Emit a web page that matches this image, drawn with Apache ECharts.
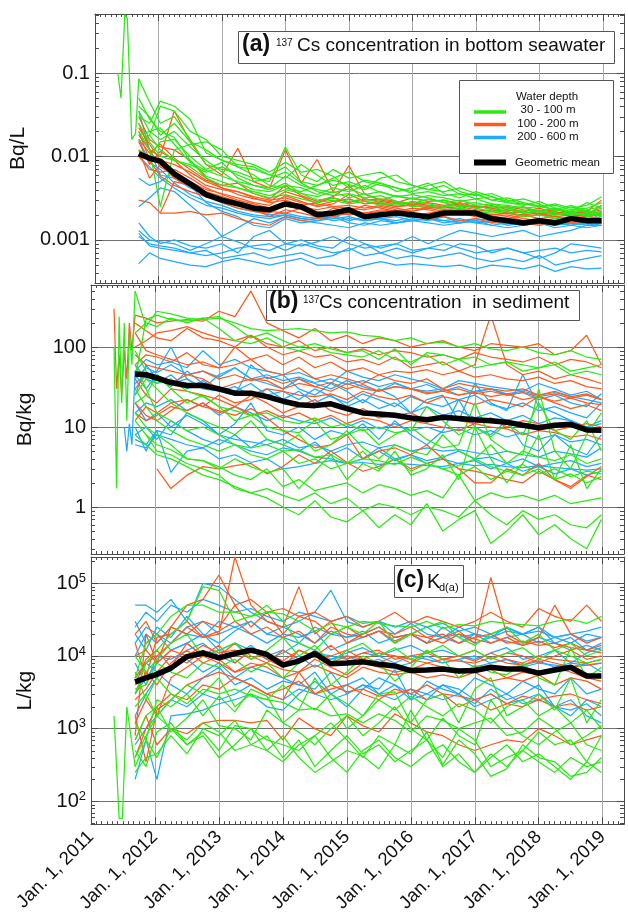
<!DOCTYPE html>
<html><head><meta charset="utf-8">
<script src="https://cdn.jsdelivr.net/npm/echarts@6/dist/echarts.min.js"></script>
<style>html,body{margin:0;padding:0;background:#fff}#c{width:628px;height:915px}</style>
</head><body><div id="c"></div>
<script>
// ---------- time axis (decimal years) ----------
const dates = [2011.69,2011.86,2012.03,2012.25,2012.5,2012.75,2013,2013.25,2013.5,2013.75,
  2014,2014.25,2014.5,2014.75,2015,2015.25,2015.5,2015.75,2016,2016.25,
  2016.5,2016.75,2017,2017.25,2017.5,2017.75,2018,2018.25,2018.5,2018.75,2018.98];
const yearTicks = [2011,2012,2013,2014,2015,2016,2017,2018,2019];

// ---------- (a) 137Cs in bottom seawater, Bq/L ----------
const earlyDatesA = [2011.36,2011.41,2011.47,2011.51,2011.58,2011.64,2011.69];
const earlyGreenA = [0.1,0.05,0.5,0.45,0.016,0.019,0.085];
const greenA = [
 [0.085,0.045,0.025,0.03,0.016,0.008,0.007,0.0065,0.0055,0.005,0.013,0.006,0.005,0.007,0.0055,0.006,0.0065,0.005,0.0045,0.004,0.0045,0.0035,0.0035,0.003,0.0032,0.0028,0.0025,0.0027,0.0024,0.0026,0.0033],
 [0.03,0.025,0.046,0.04,0.028,0.011,0.009,0.008,0.0075,0.006,0.0055,0.008,0.006,0.0045,0.005,0.0042,0.0055,0.006,0.0045,0.004,0.0038,0.0042,0.0036,0.003,0.0028,0.0026,0.0029,0.0024,0.0022,0.0028,0.0024],
 [0.02,0.012,0.0025,0.012,0.014,0.015,0.012,0.0075,0.006,0.0045,0.0042,0.0038,0.0045,0.0055,0.0065,0.005,0.0045,0.0042,0.0038,0.0045,0.005,0.0038,0.0034,0.0036,0.003,0.0027,0.0026,0.0023,0.0026,0.0022,0.0021],
 [0.015,0.018,0.04,0.035,0.02,0.016,0.01,0.009,0.008,0.0065,0.0085,0.0065,0.007,0.0058,0.0042,0.0052,0.0048,0.0038,0.0042,0.0048,0.0036,0.0032,0.0038,0.0033,0.0029,0.0031,0.0027,0.0022,0.0025,0.0021,0.0024],
 [0.012,0.01,0.015,0.016,0.01,0.007,0.0085,0.0055,0.0045,0.004,0.0048,0.0036,0.0033,0.0038,0.0032,0.0036,0.003,0.0034,0.0031,0.0029,0.003,0.0027,0.0028,0.0025,0.0024,0.0022,0.0023,0.0021,0.002,0.0021,0.0019],
 [0.035,0.02,0.016,0.02,0.013,0.009,0.0065,0.0048,0.004,0.0038,0.0045,0.0042,0.0035,0.0042,0.0038,0.0045,0.0037,0.0033,0.0035,0.0032,0.0028,0.003,0.0026,0.0027,0.0024,0.0025,0.0022,0.0024,0.0021,0.0023,0.002],
 [null,0.018,0.012,0.009,0.008,0.0065,0.0075,0.006,0.005,0.0055,0.0065,0.0048,0.0038,0.0034,0.0036,0.0032,0.0034,0.0029,0.0027,0.0031,0.0028,0.0025,0.0026,0.0023,0.0025,0.0021,0.0022,0.002,0.0022,0.0019,0.0021],
 [0.05,0.028,0.02,0.017,0.009,0.0058,0.005,0.0042,0.0036,0.0032,0.0035,0.0031,0.0028,0.003,0.0027,0.0029,0.0026,0.0028,0.0025,0.0026,0.0023,0.0024,0.0022,0.0021,0.0022,0.0019,0.002,0.0018,0.0019,0.0018,0.0018],
 [0.04,0.03,0.018,0.025,0.015,0.012,0.009,0.0075,0.007,0.006,0.0075,0.005,0.0045,0.0052,0.0046,0.004,0.0048,0.0042,0.0036,0.0038,0.0034,0.0036,0.0031,0.0033,0.0028,0.0027,0.0025,0.0026,0.0023,0.0024,0.0028],
 [0.025,0.015,0.01,0.009,0.0075,0.0055,0.0045,0.0042,0.0038,0.0034,0.004,0.0036,0.003,0.0032,0.0029,0.0031,0.0028,0.0026,0.0029,0.0027,0.0025,0.0026,0.0024,0.0022,0.0023,0.0021,0.0022,0.002,0.0021,0.002,0.0022],
 [0.018,0.02,0.022,0.014,0.0085,0.0068,0.0058,0.005,0.0045,0.0042,0.0058,0.0045,0.004,0.0037,0.0041,0.0035,0.0038,0.0033,0.0031,0.0034,0.0032,0.0029,0.0031,0.0027,0.0026,0.0024,0.0025,0.0023,0.0022,0.0023,0.0025]
];
const orangeA = [
 [0.025,0.012,0.01,0.035,0.015,0.008,0.006,0.0125,0.005,0.0042,0.012,0.0048,0.0092,0.0038,0.0078,0.0035,0.003,0.0028,0.0032,0.0029,0.003,0.0026,0.0025,0.0024,0.0022,0.0025,0.002,0.0022,0.0019,0.002,0.0026],
 [0.003,0.0028,0.0021,0.005,0.0045,0.0035,0.0028,0.0024,0.0022,0.0021,0.0026,0.0023,0.0021,0.0022,0.002,0.0021,0.0022,0.002,0.0021,0.0019,0.002,0.0021,0.0019,0.0018,0.0019,0.0017,0.0018,0.0017,0.0018,0.0017,0.0019],
 [0.018,0.012,0.0075,0.006,0.005,0.004,0.0036,0.0032,0.0028,0.0026,0.0034,0.0029,0.0025,0.0027,0.0035,0.0029,0.0027,0.0025,0.0026,0.0024,0.0025,0.0023,0.0022,0.0023,0.0021,0.0022,0.002,0.0021,0.0019,0.002,0.002],
 [0.02,0.009,0.0058,0.0045,0.0038,0.0033,0.003,0.0027,0.0024,0.0019,0.0023,0.0021,0.0019,0.0024,0.0022,0.0026,0.0024,0.0022,0.0024,0.0023,0.0021,0.0022,0.002,0.0019,0.002,0.0018,0.0017,0.0018,0.0017,0.0019,0.0018],
 [null,null,0.0021,0.0021,0.0022,0.002,0.0021,0.0018,0.0016,0.0015,0.0019,0.0017,0.0018,0.0019,0.0021,0.002,0.0019,0.0021,0.002,0.0018,0.0019,0.0017,0.0018,0.0016,0.0017,0.0016,0.0015,0.0017,0.0016,0.0017,0.0016],
 [0.015,0.008,0.0115,0.009,0.006,0.0045,0.004,0.0038,0.0032,0.0028,0.003,0.0026,0.0028,0.0032,0.0028,0.0031,0.0029,0.0027,0.0028,0.0026,0.0025,0.0027,0.0024,0.0026,0.0023,0.0022,0.0024,0.0021,0.0022,0.0021,0.0023],
 [0.012,0.0055,0.008,0.0055,0.0045,0.0038,0.0033,0.0029,0.0026,0.0022,0.0021,0.0024,0.0022,0.002,0.0023,0.0021,0.0023,0.0022,0.0019,0.0021,0.0022,0.002,0.0021,0.0019,0.0018,0.002,0.0018,0.0019,0.0018,0.0018,0.0017],
 [0.03,0.016,0.013,0.012,0.009,0.0055,0.0042,0.0035,0.0031,0.0029,0.0038,0.0033,0.0027,0.0025,0.0026,0.0024,0.0026,0.0024,0.0022,0.0025,0.0023,0.0024,0.0022,0.002,0.0021,0.002,0.0021,0.0019,0.002,0.0019,0.0021],
 [0.022,0.014,0.009,0.008,0.0065,0.005,0.0042,0.0038,0.0033,0.003,0.0032,0.0028,0.0026,0.0029,0.0031,0.0027,0.0028,0.0025,0.0027,0.0025,0.0024,0.0025,0.0023,0.0022,0.0023,0.0021,0.0022,0.002,0.0021,0.002,0.0022],
 [0.01,0.007,0.0065,0.007,0.0055,0.0042,0.0035,0.003,0.0027,0.0024,0.0028,0.0025,0.0023,0.0025,0.0024,0.0023,0.0025,0.0023,0.0022,0.0024,0.0022,0.0023,0.0021,0.002,0.0021,0.0019,0.002,0.0019,0.0018,0.0019,0.002],
 [0.016,0.011,0.014,0.0095,0.007,0.0052,0.0045,0.0048,0.0036,0.0031,0.0045,0.0034,0.0029,0.0033,0.0045,0.003,0.0031,0.0029,0.0027,0.0028,0.0026,0.0028,0.0025,0.0024,0.0025,0.0023,0.0022,0.0023,0.0021,0.0022,0.003]
];
const blueA = [
 [0.035,0.012,0.006,0.0055,0.0042,0.0035,0.0028,0.0024,0.0022,0.002,0.0021,0.0019,0.0018,0.002,0.0017,0.0019,0.0018,0.0017,0.0019,0.0018,0.0017,0.0018,0.0016,0.0015,0.0016,0.0015,0.0016,0.0015,0.0016,0.0015,0.0016],
 [0.0055,0.0045,0.005,0.0065,0.0045,0.0028,0.0022,0.0019,0.0015,0.0014,0.0018,0.0016,0.0017,0.0019,0.0016,0.0015,0.0017,0.0016,0.0018,0.0017,0.0019,0.0016,0.0018,0.0017,0.0015,0.0016,0.0017,0.0016,0.0015,0.0017,0.0016],
 [0.0025,0.0032,0.0042,0.0038,0.0026,0.0018,0.0011,0.0014,0.0018,0.0016,0.0019,0.0017,0.0016,0.0015,0.0014,0.0016,0.0015,0.0016,0.0017,0.0016,0.0015,0.0016,0.0017,0.0015,0.0014,0.0015,0.0016,0.0014,0.0015,0.0014,0.0015],
 [0.016,0.0085,0.007,0.0048,0.0035,0.0029,0.0026,0.0022,0.002,0.0019,0.002,0.0018,0.0019,0.0017,0.0018,0.0017,0.0018,0.0016,0.0017,0.0018,0.0016,0.0017,0.0016,0.0017,0.0015,0.0016,0.0015,0.0016,0.0015,0.0016,0.0015],
 [0.0016,0.0011,0.0009,0.001,0.00085,0.0008,0.0009,0.0007,0.0011,0.0013,0.0009,0.001,0.00085,0.0008,0.0011,0.0009,0.0008,0.0009,0.0011,0.0009,0.0011,0.0013,0.0012,0.0011,0.0012,0.0013,0.0011,0.0012,0.0013,0.0015,0.0022],
 [0.0012,0.00085,0.0008,0.00075,0.0007,0.00065,0.0007,0.0008,0.00085,0.0009,0.00075,0.0009,0.0008,0.0007,0.00075,0.0009,0.0007,0.0008,0.0007,0.0008,0.00075,0.0009,0.00085,0.0007,0.0008,0.0007,0.0006,0.0007,0.0009,0.00085,0.0008],
 [0.0011,0.0009,0.00085,0.0008,0.0007,0.00075,0.0006,0.00065,0.0007,0.0006,0.00065,0.0007,0.0006,0.00065,0.0008,0.00065,0.0007,0.0006,0.00065,0.0006,0.00065,0.0007,0.0006,0.00055,0.0006,0.00055,0.00065,0.0005,0.00055,0.0006,0.00065],
 [0.00052,0.0007,0.0006,0.00055,0.0005,0.00048,0.00055,0.0006,0.00055,0.0005,0.00055,0.0006,0.0005,0.0005,0.00045,0.0005,0.00055,0.0005,0.00052,0.0005,0.00048,0.0005,0.00045,0.0005,0.00048,0.00045,0.0005,0.00042,0.00048,0.00045,0.00046],
 [0.01,0.0075,0.0055,0.0042,0.0032,0.0026,0.0024,0.0021,0.0019,0.0018,0.002,0.0018,0.0017,0.0018,0.0019,0.0017,0.0018,0.0019,0.0017,0.0018,0.0017,0.0016,0.0017,0.0016,0.0016,0.0015,0.0016,0.0015,0.0016,0.0015,0.0015],
 [0.0013,0.001,0.00095,0.0009,0.00075,0.0009,0.0011,0.00095,0.0008,0.00075,0.0009,0.00085,0.00095,0.0011,0.0009,0.0008,0.00085,0.0009,0.00075,0.0008,0.0009,0.0008,0.0007,0.00075,0.0008,0.0007,0.00075,0.0008,0.0007,0.00075,0.00072]
];
const meanA = [0.0108,0.0095,0.0088,0.0062,0.0047,0.0035,0.003,0.0027,0.0024,0.0023,0.0027,0.0025,0.002,0.0021,0.0023,0.0019,0.002,0.0021,0.002,0.0019,0.0021,0.0021,0.0021,0.0018,0.0017,0.0016,0.0017,0.0016,0.0018,0.0017,0.0017];

// ---------- (b) 137Cs in sediment, Bq/kg ----------
const earlyDatesB = [2011.36,2011.40,2011.44,2011.48,2011.52,2011.56,2011.60,2011.64,2011.69];
const earlyGreenB = [100,1.7,240,20,200,12,150,60,500];
const earlyOrangeB = [300,30,80,25,90,40,200,90,250];
const earlyBlueB = [null,null,null,null,10,5,11,6,50];
const greenB = [
 [500,180,280,260,230,220,230,200,170,160,165,170,160,150,155,140,135,120,130,110,115,100,110,95,90,100,85,80,90,75,70],
 [40,220,250,220,210,230,240,180,130,150,120,100,110,95,85,90,70,95,60,85,80,70,75,60,65,60,55,65,50,55,60],
 [20,25,45,30,20,25,18,12,14,10,9,8.5,12,7,8,9.5,6,8,10,7,5.5,6,20,7,5,4.5,30,5,3,8,15],
 [60,30,15,12,9,10,8,6,5.5,6,5,5.2,4.2,4.5,3.5,4,3.8,3.4,4.2,3.5,3,3.3,4,3.2,2.8,3.4,2.6,3,2.4,2.8,2.6],
 [15,10,8,6,4,3.8,3.2,2.5,2.2,3,1.8,2.2,1.6,1.8,2,1.5,1.9,1.7,1.4,1.6,1.3,2.5,1.2,1.5,1.3,1.4,1.2,1.4,1.1,1.2,1.3],
 [null,8,5,4.5,3.5,3,2.5,1.7,1.5,1.3,1,0.8,1.2,0.75,0.65,0.9,0.55,0.8,0.6,1.1,0.5,0.7,0.9,0.35,0.5,0.8,0.45,0.6,0.4,0.3,0.7],
 [12,8,6,5.2,4,3.8,3,4,3.2,2.7,3,1.7,2.8,4.5,2.2,3.5,2.8,5,2.5,3,4.5,2.2,10,4,2,3.5,8,2.2,6,1.7,3],
 [90,50,35,40,28,24,18,16,14,15,12,11,13,10,11,9,10,8.5,9,18,12,8,10,7.5,11,8,20,9,7,12,5],
 [150,200,180,230,200,230,170,120,110,130,100,90,100,85,80,75,90,70,65,80,60,70,55,60,65,50,55,60,45,50,45],
 [8,6,4.5,4,3.2,2.5,2.2,1.8,1.5,1.7,1.4,1.2,1.5,1.1,1.3,0.9,1.1,1,0.8,1,0.9,0.75,1.2,0.8,0.6,0.9,0.7,0.8,0.6,0.55,0.8],
 [30,18,12,9,7,6,5,6,4.5,4,5,3.5,4,3,3.5,5,3,4,2.8,3.5,3,2.5,3.2,2.2,2.8,2.5,3,2.2,2.6,2,2.4],
 [25,40,30,20,15,12,10,8,12,7,6,8,5,6,9,5.5,4,6,5,4.5,8,5,4,6,3.5,5,4.2,3.8,4.5,3.5,4]
];
const orangeB = [
 [250,230,200,210,220,210,280,240,500,200,160,130,170,120,140,110,130,120,100,110,120,100,90,110,105,100,110,80,90,140,60],
 [200,160,130,120,170,130,120,100,140,100,80,90,75,80,65,70,60,75,55,60,65,50,60,250,60,45,50,40,45,40,35],
 [150,90,80,70,60,65,55,60,70,50,45,55,40,45,40,35,45,38,35,40,30,35,32,30,28,30,25,28,24,26,22],
 [40,25,20,30,28,25,22,18,25,20,15,18,22,16,14,17,13,14,15,12,14,12,11,13,10,12,11,9,10,11,10],
 [12,18,15,20,22,18,25,20,22,30,28,25,24,26,22,28,24,22,25,20,24,22,19,22,20,18,24,20,17,19,16],
 [null,null,3,1.7,2.5,3.2,3,3.3,3.5,2.6,3.2,4.5,3.5,5,3.6,2.8,3.2,4,3,3.5,4,3,2.8,2.5,2.2,2,2.8,2.2,1.8,2.5,2.2],
 [60,80,75,65,85,60,55,100,70,80,60,75,55,65,50,55,45,50,48,52,45,50,42,45,40,38,42,35,38,32,30],
 [20,14,12,16,22,18,16,14,17,13,9,7,5.5,6,8,4,5,5.5,4.5,6,4,3,2,2,3,2.5,3.5,2.2,1.7,2.4,3.2],
 [100,120,150,160,180,150,130,120,140,110,100,120,90,100,85,95,80,90,85,75,80,70,85,75,70,65,75,60,70,65,55],
 [30,45,40,35,45,40,30,35,40,38,30,35,32,28,35,30,28,32,30,27,28,30,26,28,25,27,24,26,23,25,22],
 [15,12,14,18,16,20,15,18,14,16,13,15,12,14,11,13,12,10,12,11,10,9,11,10,9.5,8,9,8.5,7.5,8,7],
 [80,60,55,50,45,50,40,45,38,42,35,40,32,36,30,34,28,32,30,26,28,25,27,24,26,22,24,21,23,20,19]
];
const blueB = [
 [50,70,60,65,55,90,60,70,55,50,45,48,40,35,50,42,38,45,40,36,30,38,35,32,30,28,35,30,25,28,22],
 [45,30,45,35,40,30,45,55,40,35,30,40,35,30,38,32,28,35,30,28,30,25,28,30,25,27,22,25,20,18,26],
 [25,60,40,32,50,35,30,28,35,25,28,22,30,24,20,26,22,18,24,20,18,22,25,19,17,20,16,18,15,13,20],
 [10,5,9,8,15,12,8,11,20,9,8,10,7,9,8,11,7,12,8,6,9,22,10,8,12,6,5,8,5.5,4.5,8],
 [6,5.5,8,7,6,5.5,7,6,5,4.5,5.5,5,4.2,4,3.5,4,5.5,4,4.5,3.8,4.2,5,4,4.2,3.5,4,3.2,3.5,3.8,3.2,3.5],
 [7,6,9,2.7,5,5.5,4,4.5,3.6,4,3,3.2,3.5,3.8,3.5,3.6,3.4,3.5,3.4,3.3,3.2,3.5,3.3,3.4,3.2,3.1,3.3,3.1,3,2.9,3],
 [35,45,50,100,40,30,28,25,60,40,45,30,25,35,28,20,30,24,15,22,25,12,35,20,16,45,18,15,12,10,12],
 [20,12,15,10,14,11,8,7,6.5,6,7,5.5,6,5,6,6.5,5.5,6,5,5.5,5,5.2,4.8,4.5,5,4.5,4.2,5,4.6,4.2,5.5],
 [40,55,48,60,45,50,42,55,40,45,38,42,36,40,34,38,32,36,30,34,28,32,27,30,26,28,25,27,24,22,20],
 [15,20,18,22,16,20,14,18,15,12,14,12,11,13,10,12,9.5,11,9,10,8.5,9.5,8,9,7.5,8.5,7,8,6.5,7,6],
 [8,10,7,12,9,7,6,8,5.5,7,6,5,6.5,4.5,5.5,4,5,3.8,4.5,3.5,4,3.5,3.8,3,3.5,2.8,3.2,2.6,3,2.5,2.8],
 [60,40,35,45,30,38,28,32,25,30,22,28,20,25,18,22,17,20,15,18,14,16,13,15,12,14,11,13,12,10,11]
];
const meanB = [46,45,41,36,33,33,30,26.5,26.5,24,21,19,18.5,19.5,17,15,14.5,14,13,12.3,13.2,12.8,12.3,12,11.5,10.5,9.8,10.5,10.8,9.2,9.1];

// ---------- (c) Kd(a), L/kg ----------
const earlyDatesC = [2011.36,2011.44,2011.49,2011.56,2011.69];
const earlyGreenC = [1500,58,58,2000,300];
const greenC = [
 [300,700,400,1000,600,900,500,1100,1000,700,600,500,800,1200,700,400,800,600,1800,700,400,1000,700,300,400,500,900,600,700,350,800],
 [6000,2500,5000,3000,2200,3500,3000,3500,2800,2500,2300,1800,1900,1500,1600,1200,1600,1300,900,1500,1300,1000,1200,1400,800,900,1400,1000,600,800,1100],
 [250,400,450,800,450,1000,800,1300,600,500,800,400,250,350,500,420,280,600,450,900,320,700,450,220,280,600,400,350,220,250,400],
 [3000,8000,12000,20000,30000,90000,80000,30000,35000,40000,38000,30000,22000,28000,25000,30000,28000,26000,25000,30000,24000,27000,26000,30000,28000,27000,26000,30000,32000,28000,35000],
 [1200,700,2500,2000,3000,1500,2800,1700,3500,2800,1200,1800,5000,2200,1000,1500,3000,3200,1200,2500,3000,1200,3500,5000,1500,2000,3000,1800,5000,1200,2500],
 [5000,15000,20000,35000,50000,50000,40000,40000,35000,50000,30000,15000,12000,20000,25000,20000,30000,15000,20000,25000,30000,18000,14000,20000,25000,15000,20000,12000,15000,10000,12000],
 [700,1500,2000,900,1400,2500,1100,1000,700,1800,1200,900,600,1000,1500,800,1200,2000,1000,700,1400,800,600,2500,1200,800,600,900,1200,600,500],
 [3500,4000,8000,6000,5000,8000,7000,9000,6000,8000,5000,8000,12000,4000,6000,10000,8000,4500,7000,12000,9000,5000,7500,6000,5500,8000,5000,4000,13000,5000,7000],
 [400,800,1500,1000,700,1200,900,500,600,800,400,700,300,500,800,450,600,350,500,700,300,450,250,400,600,350,450,300,200,350,250],
 [2000,3000,1500,2500,4000,3000,5000,2000,3000,2500,4000,2500,1800,3000,2200,1500,2500,1800,2800,2000,1500,2200,1800,1200,2000,2500,1500,2000,1200,1800,1000],
 [10000,6000,9000,15000,20000,10000,12000,15000,9000,12000,18000,10000,14000,8000,12000,15000,10000,13000,9000,11000,14000,10000,12000,9000,11000,13000,9000,12000,10000,8000,9000],
 [500,300,900,1200,600,800,400,600,1000,500,350,600,800,400,250,500,700,400,300,450,600,350,250,450,300,500,350,250,400,300,350]
];
const orangeC = [
 [800,20000,8000,25000,50000,60000,130000,50000,60000,40000,45000,35000,40000,30000,35000,25000,30000,40000,28000,35000,30000,25000,30000,40000,30000,25000,45000,35000,30000,50000,30000],
 [15000,5000,18000,20000,30000,18000,20000,230000,50000,30000,25000,90000,20000,30000,15000,20000,25000,18000,20000,15000,18000,22000,15000,120000,20000,15000,18000,50000,20000,15000,18000],
 [4000,9000,12000,7000,15000,10000,14000,8000,12000,9000,7000,12000,10000,14000,9000,11000,12000,9000,10000,11000,9000,10000,12000,9000,11000,10000,8000,10000,12000,9000,10000],
 [2500,3500,6000,10000,8000,12000,9000,6000,7000,8000,6500,6000,9000,7000,5500,8000,7000,6000,6500,8000,7000,6000,7000,6500,5000,6000,5500,7000,6000,5000,4500],
 [700,1500,600,1000,850,1200,1300,1300,1200,1300,700,1400,1000,800,1500,1100,900,1600,1200,900,800,600,500,600,700,650,1000,800,600,700,800],
 [20000,30000,15000,25000,20000,30000,25000,50000,25000,40000,20000,35000,30000,20000,25000,18000,22000,20000,25000,18000,20000,15000,18000,20000,15000,16000,14000,15000,13000,12000,14000],
 [1500,350,1800,2500,4000,5000,6000,5000,4000,3000,2500,6000,3000,3500,4000,3000,2500,3500,3000,4000,3000,2000,2500,1800,2200,2000,2500,2800,3000,2500,2200],
 [10000,12000,8000,12000,10000,14000,11000,12000,9000,11000,8500,12000,9500,10000,12000,9000,11000,10000,8000,12000,9000,10000,8500,11000,9000,8000,10000,9000,8500,8000,9000],
 [5000,8000,10000,15000,25000,18000,22000,30000,20000,25000,18000,22000,15000,25000,20000,18000,22000,16000,20000,18000,15000,20000,17000,15000,18000,14000,16000,13000,15000,12000,11000],
 [3000,6000,4000,8000,12000,8000,10000,15000,10000,8000,12000,9000,11000,8000,10000,9000,8000,10000,9000,8000,9000,8500,8000,9500,8000,7500,9000,8000,7000,7500,8000],
 [400,1000,2000,3000,2500,4000,3500,5000,4000,3000,3500,4500,3000,4000,3200,3500,2800,3000,3500,2500,3000,2800,2500,3000,2200,2800,2500,2000,2200,1800,2000],
 [1200,2500,1500,5000,7000,10000,8000,6000,8000,7000,5000,6000,7500,6000,5000,7000,6000,5500,6000,5000,5500,5000,6000,4500,5000,4500,5500,4000,5000,4500,3500]
];
const blueC = [
 [50000,50000,40000,60000,30000,100000,90000,60000,40000,30000,25000,30000,40000,80000,30000,25000,30000,20000,28000,20000,18000,25000,20000,18000,22000,20000,25000,18000,15000,20000,18000],
 [200,700,200,1500,1600,1800,2200,2500,3000,2000,1800,3000,4500,3000,2000,3500,5000,4000,3000,2500,4000,3000,2200,3500,2500,3000,4000,2000,2500,1500,1200],
 [30000,15000,20000,12000,15000,20000,12000,10000,14000,9000,11000,15000,12000,9000,11000,13000,10000,12000,14000,11000,12000,10000,9000,11000,13000,9000,10000,12000,8000,11000,13000],
 [5000,8000,6000,4000,3000,5000,7000,4000,5000,3500,4500,4000,3500,6000,3000,4000,3500,6500,2500,4500,3500,3000,5000,4000,3000,4500,3500,3000,5000,3000,3500],
 [20000,12000,25000,18000,35000,20000,15000,22000,30000,20000,18000,15000,25000,20000,18000,22000,15000,18000,20000,15000,25000,18000,20000,15000,18000,20000,25000,15000,18000,12000,15000],
 [8000,4000,10000,9000,12000,15000,10000,8000,12000,9000,8000,10000,7000,9000,10000,8000,9000,7000,8000,10000,8000,9000,7000,8000,9000,7500,8500,7000,8000,7500,8000],
 [1500,3000,5000,7000,9000,6000,8000,5000,7000,6000,5000,4000,6000,3000,4000,5000,3000,4000,2500,3000,4000,3500,2500,3000,2200,2500,3000,2000,1500,2500,2000],
 [10000,20000,15000,25000,20000,18000,30000,25000,20000,15000,20000,18000,22000,12000,15000,18000,22000,15000,20000,25000,18000,15000,20000,18000,25000,20000,15000,18000,20000,22000,25000],
 [25000,40000,30000,50000,40000,60000,50000,40000,45000,35000,30000,40000,35000,30000,35000,28000,30000,25000,30000,25000,28000,22000,25000,20000,24000,20000,22000,18000,20000,16000,18000],
 [3000,5000,8000,12000,15000,10000,12000,15000,12000,10000,12000,9000,11000,10000,9000,11000,10000,8000,10000,9000,8000,9000,10000,8000,9000,7000,8000,7500,7000,8000,6000],
 [600,1000,1500,2500,2000,3000,2500,3000,4000,3000,2500,3500,3000,2500,3000,4000,3000,2500,3500,3000,2500,3000,2000,2500,3000,2200,2500,2000,1800,2200,1500],
 [15000,25000,20000,15000,25000,30000,20000,25000,30000,20000,25000,20000,15000,22000,18000,20000,25000,18000,20000,15000,18000,20000,15000,18000,16000,14000,18000,15000,12000,14000,12000]
];
const meanC = [4400,5000,5600,6800,9800,11000,9400,10800,12000,10500,7500,8500,10800,7800,8000,8300,7700,7300,6300,6400,6600,6200,6300,7000,6600,6600,5800,6400,7000,5300,5300];

// ---------- axes ----------
const yRanges = [[0.000305,0.509],[0.2585,596],[48.5,230000]];
const yMajorTicks = [[0.001,0.01,0.1],[1,10,100],[100,1000,10000,100000]];
const yTickLabels = [['0.001','0.01','0.1'],['1','10','100'],['{b|10}{e|2}','{b|10}{e|3}','{b|10}{e|4}','{b|10}{e|5}']];
const yNames = ['Bq/L','Bq/kg','L/kg'];
const minorMult = [2,3,4,5,6,7,8,9];
const minorDecades = [[0.0001,0.001,0.01,0.1],[0.1,1,10,100],[10,100,1000,10000,100000]];

const GREEN='#2bea14', ORANGE='#ff5a1e', BLUE='#1eaaff';
const FONT='"Liberation Sans", Arial, Helvetica, sans-serif';
const AX='#4a4a4a';

const grids = [
  {left:91,right:4,top:14,height:269},
  {left:91,right:4,top:285,height:269},
  {left:91,right:4,top:557,height:269}
];

const xAxes=[], yAxes=[], series=[];
for (let g=0; g<3; g++) {
  xAxes.push({type:'value',gridIndex:g,min:2011,max:2019.333,interval:1,position:'bottom',
    axisLine:{show:true,onZero:false,lineStyle:{color:AX,width:1}},
    axisTick:{show:true,inside:true,length:7,lineStyle:{color:AX}},
    minorTick:{show:true,splitNumber:12,length:3,lineStyle:{color:AX}},
    splitLine:{show:true,lineStyle:{color:'#a8a8a8',width:1}},
    axisLabel:{show:g===2,rotate:45,margin:10,fontSize:18.5,color:'#111',fontFamily:FONT,
      formatter:v=>{const i=yearTicks.indexOf(v);return i>=0?'Jan. 1, '+yearTicks[i]:'';}}});
  xAxes.push({type:'value',gridIndex:g,min:2011,max:2019.333,interval:1,position:'top',
    axisLine:{show:true,onZero:false,lineStyle:{color:AX,width:1}},
    axisTick:{show:true,inside:true,length:7,lineStyle:{color:AX}},
    minorTick:{show:true,splitNumber:12,length:3,lineStyle:{color:AX}},
    splitLine:{show:false},axisLabel:{show:false}});
  const tk=yMajorTicks[g], tl=yTickLabels[g];
  yAxes.push({type:'log',logBase:10,gridIndex:g,min:yRanges[g][0],max:yRanges[g][1],position:'left',
    name:yNames[g],nameLocation:'middle',nameGap:55,nameRotate:90,
    nameTextStyle:{fontSize:21,color:'#111',fontFamily:FONT},
    axisLine:{show:true,onZero:false,lineStyle:{color:AX,width:1}},
    axisTick:{show:true,inside:true,length:7,lineStyle:{color:AX}},
    splitLine:{show:true,lineStyle:{color:'#707070',width:1}},
    axisLabel:{show:true,margin:5,fontSize:20,color:'#111',fontFamily:FONT,
      formatter:v=>{for(let i=0;i<tk.length;i++){if(Math.abs(v/tk[i]-1)<1e-6)return tl[i];}return '';},
      rich:{b:{fontSize:20,fontFamily:FONT,color:'#111'},e:{fontSize:13,fontFamily:FONT,color:'#111',padding:[0,0,10,0]}}}});
  yAxes.push({type:'log',logBase:10,gridIndex:g,min:yRanges[g][0],max:yRanges[g][1],position:'right',
    axisLine:{show:true,onZero:false,lineStyle:{color:AX,width:1}},
    axisTick:{show:true,inside:true,length:7,lineStyle:{color:AX}},
    splitLine:{show:false},axisLabel:{show:false}});
}

function addLines(list, color, g, dts) {
  list.forEach(vals => {
    series.push({type:'line',xAxisIndex:2*g,yAxisIndex:2*g,silent:true,animation:false,
      showSymbol:false,symbol:'none',connectNulls:false,
      lineStyle:{width:1.25,color:color},itemStyle:{color:color},
      data:(dts||dates).map((d,i)=>[d, vals[i]==null?'-':vals[i]])});
  });
}
const panels = [
  {g:0,blue:blueA,orange:orangeA,green:greenA,mean:meanA,early:[[earlyDatesA,earlyGreenA,GREEN]]},
  {g:1,blue:blueB,orange:orangeB,green:greenB,mean:meanB,early:[[earlyDatesB,earlyBlueB,BLUE],[earlyDatesB,earlyOrangeB,ORANGE],[earlyDatesB,earlyGreenB,GREEN]]},
  {g:2,blue:blueC,orange:orangeC,green:greenC,mean:meanC,early:[[earlyDatesC,earlyGreenC,GREEN]]}
];
panels.forEach(p => {
  addLines(p.blue, BLUE, p.g);
  addLines(p.orange, ORANGE, p.g);
  addLines(p.green, GREEN, p.g);
  p.early.forEach(e => addLines([e[1]], e[2], p.g, e[0]));
  series.push({type:'line',xAxisIndex:2*p.g,yAxisIndex:2*p.g,silent:true,animation:false,z:10,
    showSymbol:false,symbol:'none',lineStyle:{width:5.5,color:'#000',join:'round'},
    data:dates.map((d,i)=>[d,p.mean[i]])});
  const mt=[]; const r=yRanges[p.g];
  minorDecades[p.g].forEach(dec=>minorMult.forEach(m=>{const v=m*dec; if(v>r[0]&&v<r[1]) mt.push([2011,v]);}));
  series.push({type:'custom',xAxisIndex:2*p.g,yAxisIndex:2*p.g,silent:true,animation:false,clip:false,z:12,
    data:mt,
    renderItem:(params,api)=>{
      const cs=params.coordSys; const y=Math.round(api.coord([api.value(0),api.value(1)])[1])+0.5;
      return {type:'group',children:[
        {type:'line',shape:{x1:cs.x,y1:y,x2:cs.x+4,y2:y},style:{stroke:AX,lineWidth:1}},
        {type:'line',shape:{x1:cs.x+cs.width-4,y1:y,x2:cs.x+cs.width,y2:y},style:{stroke:AX,lineWidth:1}}]};
    }});
});

// ---------- titles & legend (decorations) ----------
const T = (x,y,text,size,opts) => ({type:'text',x:x,y:y,z:100,
  style:Object.assign({text:text,font:(opts&&opts.bold?'bold ':'')+size+'px '+FONT,fill:'#111',textVerticalAlign:'middle',textAlign:'left'},opts&&opts.style||{})});
const box = (x,y,w,h) => ({type:'rect',z:99,shape:{x:x+0.5,y:y+0.5,width:w,height:h},style:{fill:'#fff',stroke:'#555',lineWidth:1}});
const seg = (x1,x2,y,color,w) => ({type:'line',z:100,shape:{x1:x1,y1:y,x2:x2,y2:y},style:{stroke:color,lineWidth:w}});

const graphic = [
  box(238,31,376,32),
  T(242,45,'(a)',23,{bold:true}), T(276,43,'137',10), T(297,46,'Cs concentration in bottom seawater',19),
  box(266,290,313,30),
  T(269,302,'(b)',23,{bold:true}), T(303,300,'137',10), T(319,303,'Cs concentration  in sediment',19),
  box(394,565,69,32),
  T(396,581,'(c)',23,{bold:true}), T(427,582,'K',20), T(439,588,'d(a)',11),
  box(459,80,154,93),
  T(547,97,'Water depth',11.5,{style:{textAlign:'center'}}),
  seg(474,506,112,GREEN,3.5), T(548,110,'30 - 100 m',11.5,{style:{textAlign:'center'}}),
  seg(474,506,124.5,ORANGE,3.5), T(548,124,'100 - 200 m',11.5,{style:{textAlign:'center'}}),
  seg(474,506,137.5,BLUE,3.5), T(548,137,'200 - 600 m',11.5,{style:{textAlign:'center'}}),
  seg(474,506,162.5,'#000',6), T(515,163,'Geometric mean',11.5)
];

const chart = echarts.init(document.getElementById('c'), null, {renderer:'canvas'});
chart.setOption({
  animation:false, backgroundColor:'#fff',
  textStyle:{fontFamily:FONT},
  grid:grids, xAxis:xAxes, yAxis:yAxes, series:series, graphic:graphic
});
</script></body></html>
